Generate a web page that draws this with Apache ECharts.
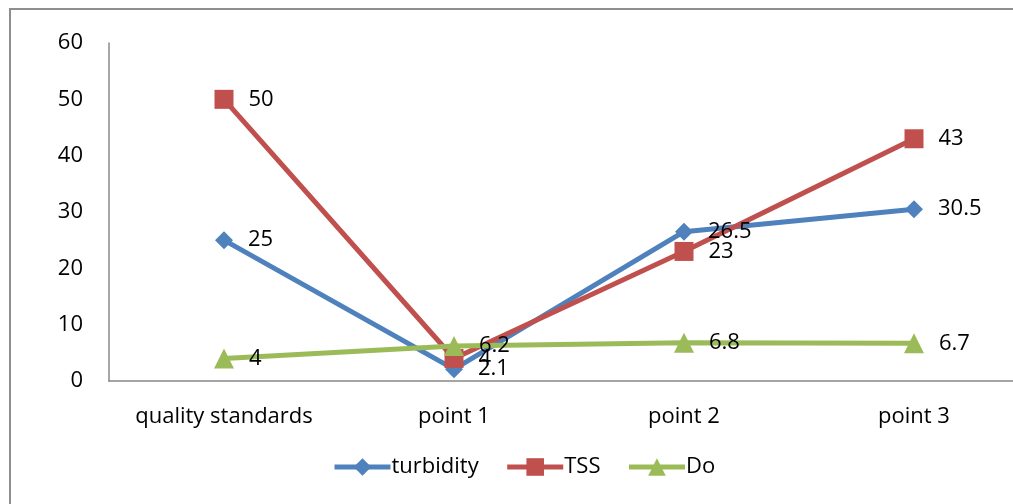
<!DOCTYPE html>
<html><head><meta charset="utf-8">
<script src="https://cdn.jsdelivr.net/npm/echarts@6/dist/echarts.min.js"></script>
<style>html,body{margin:0;padding:0;background:#fff;overflow:hidden}#c{width:1040px;height:504px}</style>
</head><body><div id="c"></div>
<script>
const categories = ['quality standards', 'point 1', 'point 2', 'point 3'];
const turbidity = [25, 2.1, 26.5, 30.5];
const tss = [50, 4, 23, 43];
const doValues = [4, 6.2, 6.8, 6.7];
const yTicks = [0, 10, 20, 30, 40, 50, 60];

const FONT = 'Open Sans';
const FS = 22;
const chart = echarts.init(document.getElementById('c'));
function mkSeries(name, data, color, symbol, size) {
  return {
    name, type: 'line', data,
    symbol, symbolSize: size,
    lineStyle: { color, width: 5 },
    itemStyle: { color },
    label: { show: true, position: 'right', distance: 15, color: '#000', fontFamily: FONT, fontSize: FS },
    z: 3
  };
}
chart.setOption({
  animation: false,
  graphic: [{ type: 'rect', shape: { x: 10, y: 9, width: 1040, height: 530 }, style: { fill: 'none', stroke: '#8e8e8e', lineWidth: 2 }, silent: true }],
  grid: { left: 109, top: 43, right: 11, height: 338 },
  xAxis: {
    type: 'category', data: categories, boundaryGap: true,
    axisLine: { lineStyle: { color: '#888', width: 1.5 } },
    axisTick: { show: false },
    axisLabel: { color: '#000', fontFamily: FONT, fontSize: FS, margin: 25, interval: 0 }
  },
  yAxis: {
    type: 'value', min: yTicks[0], max: yTicks[yTicks.length - 1], interval: 10,
    axisLine: { show: true, lineStyle: { color: '#888', width: 1.5 } },
    axisTick: { show: false },
    splitLine: { show: false },
    axisLabel: { color: '#000', fontFamily: FONT, fontSize: FS, margin: 26 }
  },
  legend: {
    top: 456, left: 332, padding: 0, itemWidth: 56, itemHeight: 22, itemGap: 26,
    lineStyle: { width: 5 },
    textStyle: { color: '#000', fontFamily: FONT, fontSize: FS, padding: [0, 0, 0, -4] },
    data: ['turbidity', 'TSS', 'Do']
  },
  series: [
    mkSeries('turbidity', turbidity, '#4f81bd', 'diamond', 18),
    mkSeries('TSS', tss, '#c0504d', 'rect', 19),
    mkSeries('Do', doValues, '#9bbb59', 'triangle', 20)
  ]
});
</script></body></html>
